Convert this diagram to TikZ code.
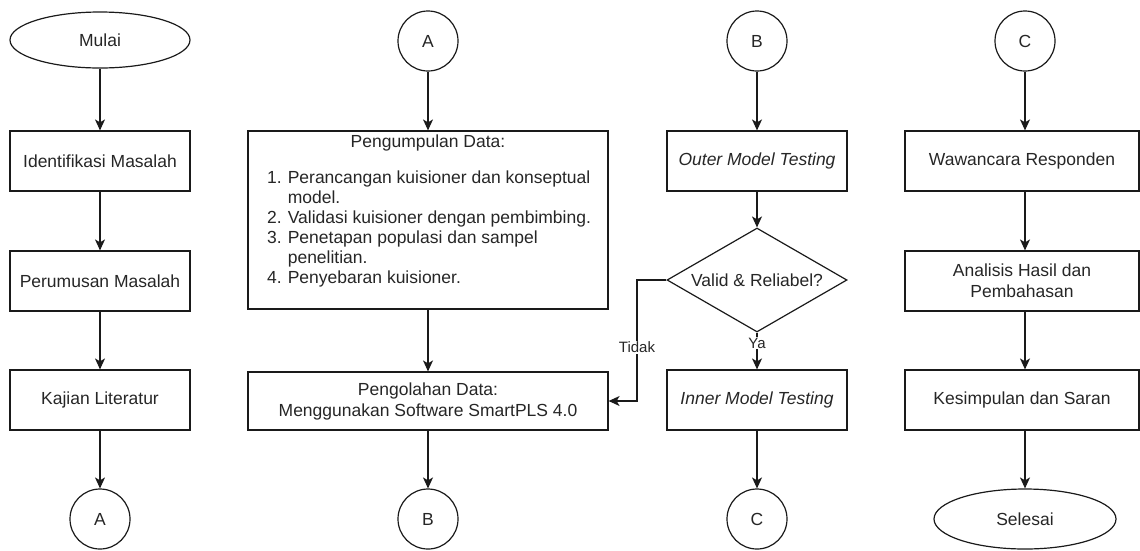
\documentclass[tikz,border=0pt]{standalone}
\usepackage{fontspec}
\setmainfont{Liberation Sans}
\usetikzlibrary{shapes.geometric,arrows.meta}
\definecolor{ln}{HTML}{1A1A1A}
\definecolor{tx}{HTML}{262626}
\newcommand{\mainfs}{\fontsize{17.5pt}{21pt}\selectfont}
\tikzset{
  base/.style={draw=ln, line width=1.2pt, text=tx, font=\mainfs, inner sep=0pt},
  box/.style={base, rectangle, minimum width=180pt, minimum height=60pt, align=center},
  term/.style={base, ellipse, minimum width=180pt, minimum height=56pt},
  conn/.style={base, circle, minimum size=60pt},
  txt/.style={text=tx, font=\mainfs, inner sep=0pt},
  arr/.style={draw=ln, line width=1.2pt, -{Stealth[length=11pt,width=10pt,inset=3pt]}},
  lbl/.style={text=tx, font=\fontsize{15pt}{18pt}\selectfont, fill=white, inner sep=1pt}
}
\begin{document}
\begin{tikzpicture}[x=1pt,y=-1pt]
\useasboundingbox (0,0) rectangle (1140,550);
% column 1
\node[term] (mulai) at (100,40) {Mulai};
\node[box] (ident) at (100,161) {Identifikasi Masalah};
\node[box] (rumus) at (100,281) {Perumusan Masalah};
\node[box] (kajian) at (100,400) {Kajian Literatur};
\node[conn] (a1) at (100,519) {A};
\draw[arr] (mulai) -- (ident);
\draw[arr] (ident) -- (rumus);
\draw[arr] (rumus) -- (kajian);
\draw[arr] (kajian) -- (a1);
% column 2
\node[conn] (a2) at (428,41) {A};
\node[box, minimum width=360pt, minimum height=178pt] (kumpul) at (428,220) {};
\node[txt] (kumpulT) at (428,143) {Pengumpulan Data:};
\node[txt, anchor=base west] (kumpulL) at (267,183) {\fontsize{17.5pt}{20pt}\selectfont
  \begin{tabular}[t]{@{}r@{\hspace{6pt}}l@{}}
  1. & Perancangan kuisioner dan konseptual\\
     & model.\\
  2. & Validasi kuisioner dengan pembimbing.\\
  3. & Penetapan populasi dan sampel\\
     & penelitian.\\
  4. & Penyebaran kuisioner.
  \end{tabular}};
\node[box, minimum width=360pt, minimum height=58pt] (olah) at (428,401) {Pengolahan Data:\\Menggunakan Software SmartPLS 4.0};
\node[conn] (b2) at (428,519) {B};
\draw[arr] (a2) -- (kumpul);
\draw[arr] (kumpul) -- (olah);
\draw[arr] (olah) -- (b2);
% column 3
\node[conn] (b3) at (757,41) {B};
\node[box] (outer) at (757,161) {\itshape Outer Model Testing};
\node[base, diamond, minimum width=180pt, minimum height=104pt] (valid) at (757,280) {};
\node[txt] (validT) at (valid.center) {Valid \& Reliabel?};
\node[box] (inner) at (757,400) {\itshape Inner Model Testing};
\node[conn] (c3) at (757,519) {C};
\coordinate (bend) at (637,280);
\draw[arr] (b3) -- (outer);
\draw[arr] (outer) -- (valid);
\draw[arr] (valid) -- (inner);
\draw[arr] (inner) -- (c3);
\draw[arr] (valid.west) -- (bend) |- (olah.east);
\node[lbl] (tidak) at (637,347) {Tidak};
\node[lbl] (ya) at (757,343) {Ya};
% column 4
\node[conn] (c4) at (1025,41) {C};
\node[box, minimum width=234pt] (wawan) at (1022,161) {Wawancara Responden};
\node[box, minimum width=234pt] (anal) at (1022,281) {Analisis Hasil dan\\Pembahasan};
\node[box, minimum width=234pt] (kesim) at (1022,400) {Kesimpulan dan Saran};
\node[term, minimum width=182pt, minimum height=60pt] (selesai) at (1025,519) {Selesai};
\draw[arr] (c4) -- (c4 |- wawan.north);
\draw[arr] (wawan.south -| c4) -- (c4 |- anal.north);
\draw[arr] (anal.south -| c4) -- (c4 |- kesim.north);
\draw[arr] (kesim.south -| c4) -- (selesai);
\end{tikzpicture}
\end{document}
